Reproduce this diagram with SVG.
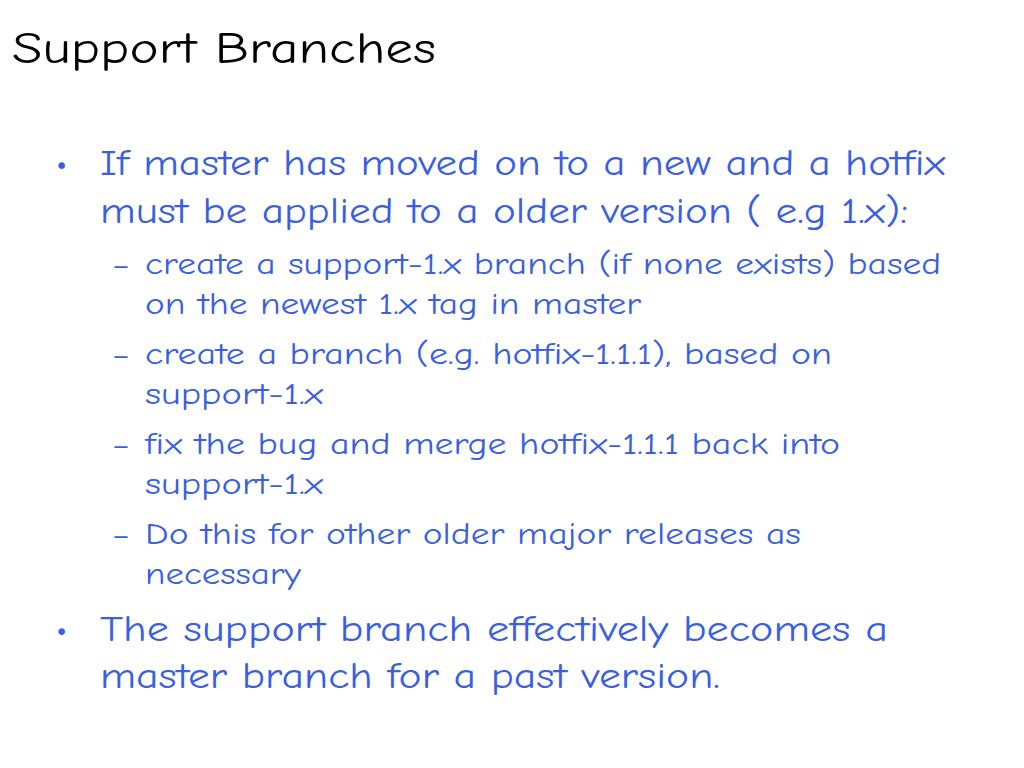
<svg xmlns="http://www.w3.org/2000/svg" width="1024" height="768" viewBox="0 0 1024 768">
<style>
text{font-family:"Comic Neue","Noto Sans","DejaVu Sans",sans-serif}
.t{font-size:44px;fill:#000}
.b{font-size:36px;fill:#3a5fe0}
.s{font-size:30px;fill:#3a5fe0}
</style>
<rect width="1024" height="768" fill="#fff"/>
<text class="t" x="12" y="63" textLength="424" lengthAdjust="spacingAndGlyphs">Support Branches</text>
<g class="b">
<text x="56" y="175">•</text>
<text x="100" y="175" textLength="845" lengthAdjust="spacingAndGlyphs">If master has moved on to a new and a hotfix</text>
<text x="100" y="223" textLength="808" lengthAdjust="spacingAndGlyphs">must be applied to a older version ( e.g 1.x):</text>
<text x="56" y="641">•</text>
<text x="100" y="641" textLength="788" lengthAdjust="spacingAndGlyphs">The support branch effectively becomes a</text>
<text x="100" y="688" textLength="620" lengthAdjust="spacingAndGlyphs">master branch for a past version.</text>
</g>
<g class="s">
<text x="112" y="274">–</text>
<text x="145" y="274" textLength="796" lengthAdjust="spacingAndGlyphs">create a support-1.x branch (if none exists) based</text>
<text x="145" y="314" textLength="496" lengthAdjust="spacingAndGlyphs">on the newest 1.x tag in master</text>
<text x="112" y="364">–</text>
<text x="145" y="364" textLength="687" lengthAdjust="spacingAndGlyphs">create a branch (e.g. hotfix-1.1.1), based on</text>
<text x="145" y="404" textLength="178" lengthAdjust="spacingAndGlyphs">support-1.x</text>
<text x="112" y="454">–</text>
<text x="145" y="454" textLength="695" lengthAdjust="spacingAndGlyphs">fix the bug and merge hotfix-1.1.1 back into</text>
<text x="145" y="494" textLength="178" lengthAdjust="spacingAndGlyphs">support-1.x</text>
<text x="112" y="544">–</text>
<text x="145" y="544" textLength="656" lengthAdjust="spacingAndGlyphs">Do this for other older major releases as</text>
<text x="145" y="584" textLength="156" lengthAdjust="spacingAndGlyphs">necessary</text>
</g>
</svg>
